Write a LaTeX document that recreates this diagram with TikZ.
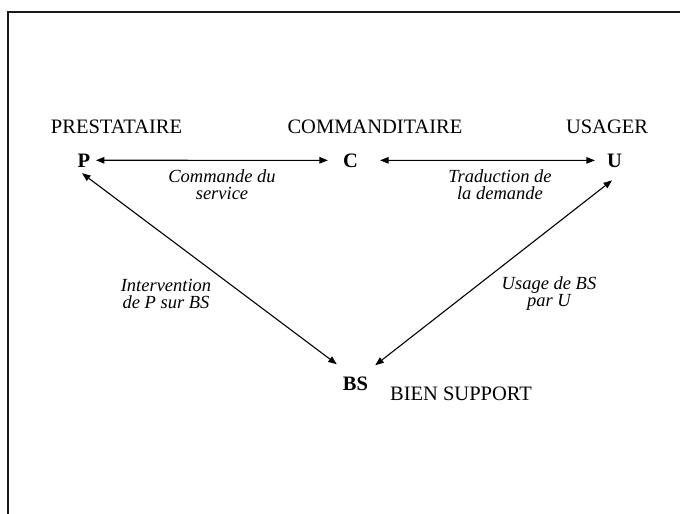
\documentclass[tikz,border=0pt]{standalone}
\usepackage{fontspec}
\setmainfont{Liberation Serif}
\usetikzlibrary{arrows.meta}
\begin{document}
\begin{tikzpicture}[x=1pt,y=-1pt,
  role/.style={font=\fontsize{20.5}{24}\selectfont, anchor=base, inner sep=0pt},
  actor/.style={font=\fontsize{20.5}{24}\selectfont\bfseries, anchor=base, inner sep=1pt},
  relation/.style={font=\fontsize{18.5}{17}\selectfont\itshape, align=center, anchor=north, inner sep=0pt},
  link/.style={{Triangle[length=8.5pt,width=6.5pt]}-{Triangle[length=8.5pt,width=6.5pt]}, line width=1.1pt},
  frame/.style={line width=1.8pt, black!90}]
\useasboundingbox (0,0) rectangle (680,514);

% open frame: left and top edges only
\draw[frame] (8,514) -- (8,12) -- (680,12);

% role titles
\node[role] (tP) at (116.5,133) {PRESTATAIRE};
\node[role] (tC) at (375,133) {COMMANDITAIRE};
\node[role] (tU) at (607,133) {USAGER};
\node[role] (tBS) at (461,400) {BIEN SUPPORT};

% actors
\node[actor] (P) at (84,167) {P};
\node[actor] (C) at (350.5,167) {C};
\node[actor] (U) at (614.5,167) {U};
\node[actor] (BS) at (355.5,390) {BS};

% relations
\draw[link, shorten <=4.5pt, shorten >=14pt] (P.east) -- (C.west);
\draw[link, shorten <=21pt, shorten >=11pt] (C.east) -- (U.west);
\draw[link] ([shift={(-2,5)}]P.south) -- ([shift={(-5,-11)}]BS.north west);
\draw[link] ([shift={(-2.5,12)}]U.south) -- ([shift={(6,-10)}]BS.north east);

% relation labels
\node[relation] (lPC) at (222,169) {Commande du\\service};
\node[relation] (lCU) at (500,169) {Traduction de\\la demande};
\node[relation] (lPB) at (166,279) {Intervention\\de P sur BS};
\node[relation] (lUB) at (549,276) {Usage de BS\\par U};
\end{tikzpicture}
\end{document}
